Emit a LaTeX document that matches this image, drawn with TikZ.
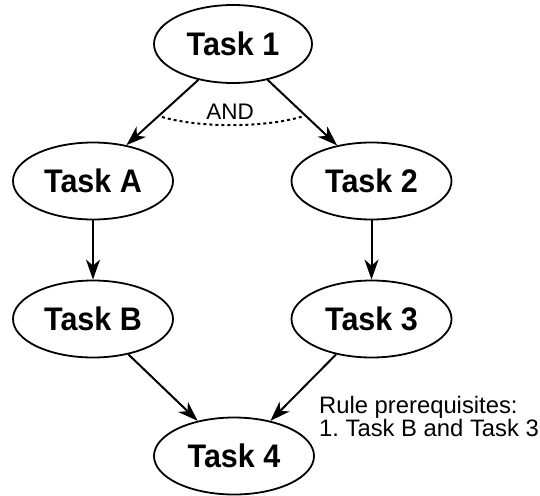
\documentclass[tikz,border=0pt]{standalone}
\usepackage{fontspec}
\setmainfont{Liberation Sans}
\usetikzlibrary{shapes.geometric,arrows.meta}
\frenchspacing
\newcommand{\tasklabel}[1]{\scalebox{1}[1.07]{#1}}
\begin{document}
\begin{tikzpicture}[x=1pt,y=-1pt,
  task/.style={ellipse,draw,line width=1.8pt,fill=white,inner sep=0pt,
    minimum width=160pt,minimum height=77pt,
    font=\fontsize{30.5}{30.5}\selectfont\bfseries},
  flow/.style={line width=2pt,-{Stealth[length=20pt,width=14pt,inset=6pt]}},
  note/.style={font=\fontsize{23.8}{23.8}\selectfont,inner sep=0pt,anchor=base west}]
\useasboundingbox (0,0) rectangle (540,495);

% task nodes
\node[task,minimum width=158pt,minimum height=78pt] (t1) at (233,44) {\tasklabel{Task 1}};
\node[task] (ta) at (93,181) {\tasklabel{Task A}};
\node[task] (t2) at (371.5,181) {\tasklabel{Task 2}};
\node[task] (tb) at (93,319) {\tasklabel{Task B}};
\node[task] (t3) at (371.5,319) {\tasklabel{Task 3}};
\node[task] (t4) at (234,456) {\tasklabel{Task 4}};

% precedence arrows
\draw[flow] (t1.226) -- (ta.47);
\draw[flow] (t1.314) -- (t2.134);
\draw[flow] (ta.south) -- (tb.north);
\draw[flow] (t2.south) -- (t3.north);
\draw[flow] (tb.-45) -- (t4.136);
\draw[flow] (t3.225) -- (t4.44);

% AND condition across the two outgoing branches
\coordinate (andl) at (162,117);
\coordinate (andr) at (304,116);
\draw[line width=2pt,dash pattern=on 3pt off 3pt]
  (andl) .. controls (200,128) and (266,128) .. (andr);
\node[font=\fontsize{22.5}{22.5}\selectfont,inner sep=0pt] (and) at (230,112) {AND};

% rule annotation
\node[note] (rule1) at (319,413) {Rule prerequisites:};
\node[note] (rule2) at (319,436) {1. Task B and Task 3};
\end{tikzpicture}
\end{document}
